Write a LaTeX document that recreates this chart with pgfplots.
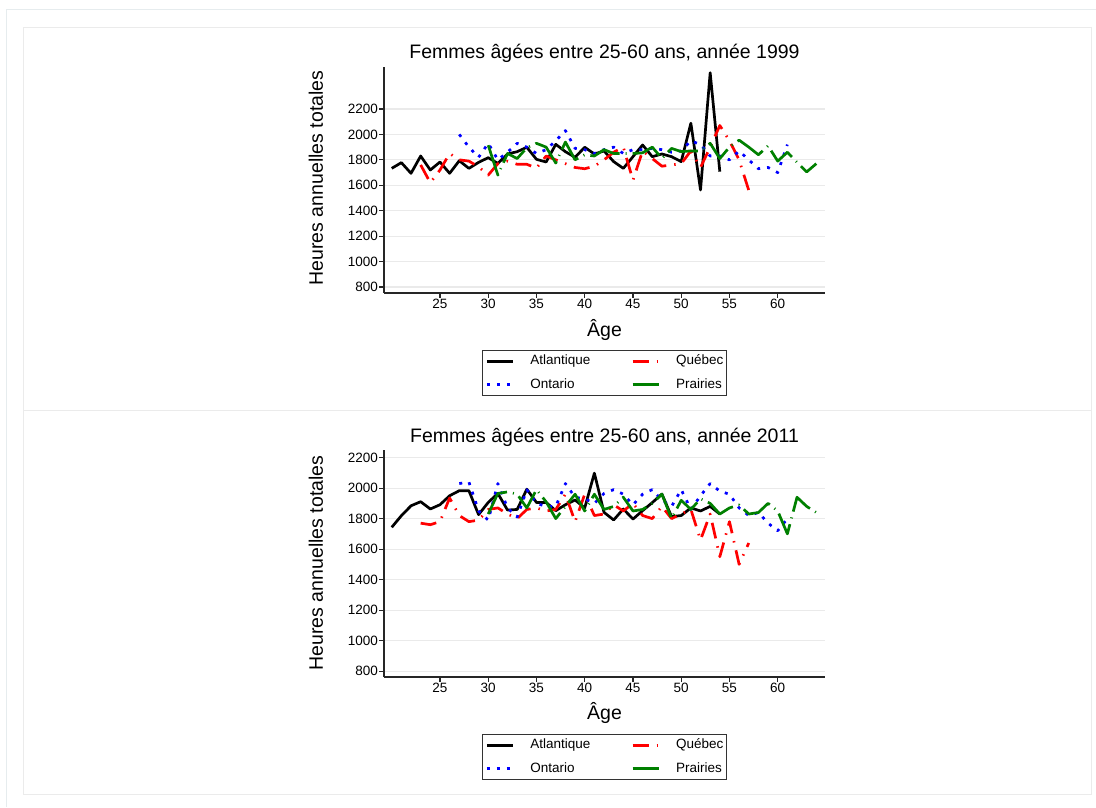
\documentclass[border=0pt]{standalone}
\usepackage{fontspec}
\setmainfont{Liberation Sans}
\usepackage{pgfplots}
\pgfplotsset{compat=1.18}

\definecolor{frameA}{HTML}{E6ECEE}
\definecolor{frameB}{HTML}{EBEBEB}
\definecolor{gridc}{HTML}{EAEAEA}
\definecolor{qred}{HTML}{FF0000}
\definecolor{oblue}{HTML}{0000FF}
\definecolor{pgreen}{HTML}{008000}

\pgfplotsset{
 mystyle/.style={
  scale only axis, width=441pt,
  xmin=19.2, xmax=64.9,
  axis lines*=left,
  axis line style={black!85, line width=1.1pt},
  tick align=outside, major tick length=5pt,
  tick style={black!85, line width=1.1pt},
  xtick={25,30,...,60}, ytick={800,1000,...,2200},
  ymajorgrids, grid style={gridc, line width=1.1pt},
  tick label style={font=\fontsize{13.5}{14}\selectfont},
  /pgf/number format/assume math mode=true,
  /pgf/number format/set thousands separator={},
  scaled ticks=false,
  yticklabel style={inner sep=1pt},
  xticklabel style={inner sep=1pt},
  legend columns=2,
  legend cell align=left,
  legend image code/.code={\draw[##1] (0pt,0pt) -- (26pt,0pt);},
  legend style={at={(0.5,0)}, anchor=north, yshift=-57pt,
    draw=black!80, line width=0.9pt, fill=white,
    font=\fontsize{13.5}{14}\selectfont,
    inner xsep=3pt, inner ysep=4.3pt, row sep=10.3pt,
    nodes={inner sep=0pt, text height=10pt, text depth=3pt, anchor=west},
    /tikz/every odd column/.style={column sep=16pt},
    /tikz/every even column/.style={column sep=41pt}},
 },
 atl/.style={black, line width=2.7pt, line join=round, mark=none},
 que/.style={qred, line width=2.7pt, line join=round, dash pattern=on 16pt off 8pt on 1.5pt off 8pt, mark=none},
 ont/.style={oblue, line width=2.7pt, line join=round, dash pattern=on 3pt off 7pt, mark=none},
 pra/.style={pgreen, line width=2.7pt, line join=round, dash pattern=on 32pt off 6pt on 1pt off 6pt, mark=none},
}

\begin{document}
\begin{tikzpicture}
\path[use as bounding box] (0pt,0pt) rectangle (1096pt,807pt);
\draw[frameA, line width=1pt] (6pt,0pt) -- (6pt,797pt) -- (1096pt,797pt);
\draw[frameB, line width=1pt] (23pt,13pt) rectangle (1091pt,779pt);
\draw[frameB, line width=1pt] (23pt,396pt) -- (1091pt,396pt);

% ---------- 1999 ----------
\begin{axis}[mystyle, height=226pt, ymin=753, ymax=2530,
  at={(384pt,514pt)}, anchor=south west]
\addplot[atl] coordinates {(20,1733)(21,1778)(22,1694)(23,1830)(24,1720)(25,1783)(26,1694)(27,1793)(28,1733)(29,1780)(30,1817)(31,1772)(32,1846)(33,1864)(34,1899)(35,1804)(36,1783)(37,1922)(38,1864)(39,1820)(40,1899)(41,1846)(42,1870)(43,1786)(44,1733)(45,1825)(46,1917)(47,1825)(48,1846)(49,1825)(50,1786)(51,2088)(52,1563)(53,2485)(54,1707)};
\addlegendentry{Atlantique}
\addplot[que] coordinates {(23,1760)(24,1620)(25,1720)(26,1850)(27,1800)(28,1790)(29,1745)(30,1680)(31,1770)(32,1790)(33,1765)(34,1765)(35,1735)(36,1830)(37,1800)(38,1770)(39,1740)(40,1730)(41,1750)(42,1800)(43,1860)(44,1900)(45,1640)(46,1870)(47,1810)(48,1750)(49,1760)(50,1770)(51,1870)(52,1740)(53,1900)(54,2070)(55,1950)(56,1800)(57,1560)};
\addlegendentry{Québec}
\addplot[ont] coordinates {(27,2000)(28,1900)(29,1820)(30,1930)(31,1800)(32,1860)(33,1930)(34,1900)(35,1850)(36,1880)(37,1950)(38,2030)(39,1890)(40,1880)(41,1850)(42,1880)(43,1900)(44,1850)(45,1880)(46,1880)(47,1890)(48,1880)(49,1860)(50,1870)(51,1950)(52,1920)(53,1830)(54,1830)(55,1800)(56,1870)(57,1800)(58,1730)(59,1740)(60,1700)(61,1920)};
\addlegendentry{Ontario}
\addplot[pra] coordinates {(30,1915)(31,1680)(32,1850)(33,1810)(34,1895)(35,1930)(36,1900)(37,1775)(38,1940)(39,1800)(40,1840)(41,1830)(42,1880)(43,1850)(44,1850)(45,1850)(46,1855)(47,1900)(48,1810)(49,1890)(50,1865)(51,1870)(52,1870)(53,1930)(54,1810)(55,1900)(56,1955)(57,1900)(58,1840)(59,1910)(60,1790)(61,1860)(62,1780)(63,1705)(64,1770)};
\addlegendentry{Prairies}
\end{axis}

% ---------- 2011 ----------
\begin{axis}[mystyle, height=227pt, ymin=761, ymax=2250,
  at={(384pt,130pt)}, anchor=south west]
\addplot[atl] coordinates {(20,1743)(21,1819)(22,1884)(23,1911)(24,1863)(25,1891)(26,1950)(27,1983)(28,1983)(29,1826)(30,1906)(31,1965)(32,1856)(33,1860)(34,1993)(35,1906)(36,1906)(37,1852)(38,1891)(39,1922)(40,1870)(41,2098)(42,1841)(43,1791)(44,1863)(45,1797)(46,1852)(47,1905)(48,1961)(49,1813)(50,1820)(51,1870)(52,1850)(53,1880)(54,1830)};
\addlegendentry{Atlantique}
\addplot[que] coordinates {(23,1770)(24,1760)(25,1780)(26,1935)(27,1820)(28,1780)(29,1790)(30,1860)(31,1870)(32,1830)(33,1800)(34,1860)(35,1870)(36,1850)(37,1860)(38,1960)(39,1780)(40,1960)(41,1820)(42,1830)(43,1890)(44,1850)(45,1900)(46,1820)(47,1800)(48,1880)(49,1800)(50,1830)(51,1860)(52,1660)(53,1830)(54,1550)(55,1780)(56,1500)(57,1640)};
\addlegendentry{Québec}
\addplot[ont] coordinates {(27,2030)(28,2040)(29,1850)(30,1790)(31,2030)(32,1870)(33,1810)(34,1990)(35,1900)(36,1880)(37,1880)(38,2030)(39,1940)(40,1930)(41,1900)(42,1965)(43,1990)(44,1960)(45,1890)(46,1960)(47,1990)(48,1920)(49,1880)(50,1990)(51,1860)(52,1950)(53,2030)(54,1980)(55,1960)(56,1870)(57,1820)(58,1840)(59,1770)(60,1720)(61,1800)};
\addlegendentry{Ontario}
\addplot[pra] coordinates {(30,1830)(31,1965)(32,1975)(33,1960)(34,1870)(35,1990)(36,1910)(37,1800)(38,1880)(39,1960)(40,1850)(41,1960)(42,1860)(43,1880)(44,1940)(45,1850)(46,1860)(47,1900)(48,1960)(49,1800)(50,1920)(51,1860)(52,1930)(53,1900)(54,1830)(55,1870)(56,1890)(57,1830)(58,1840)(59,1900)(60,1850)(61,1700)(62,1940)(63,1880)(64,1840)};
\addlegendentry{Prairies}
\end{axis}

% titles and labels
\node[font=\fontsize{19.5}{20}\selectfont, anchor=base] at (604.5pt,748pt) {Femmes âgées entre 25-60 ans, année 1999};
\node[font=\fontsize{19.5}{20}\selectfont, anchor=base] at (604.5pt,364pt) {Femmes âgées entre 25-60 ans, année 2011};
\node[font=\fontsize{19.5}{20}\selectfont, rotate=90, anchor=center] at (316pt,629pt) {Heures annuelles totales};
\node[font=\fontsize{19.5}{20}\selectfont, rotate=90, anchor=center] at (316pt,244pt) {Heures annuelles totales};
\node[font=\fontsize{19.5}{20}\selectfont, anchor=base] at (604.5pt,470pt) {Âge};
\node[font=\fontsize{19.5}{20}\selectfont, anchor=base] at (604.5pt,88pt) {Âge};
\end{tikzpicture}
\end{document}
